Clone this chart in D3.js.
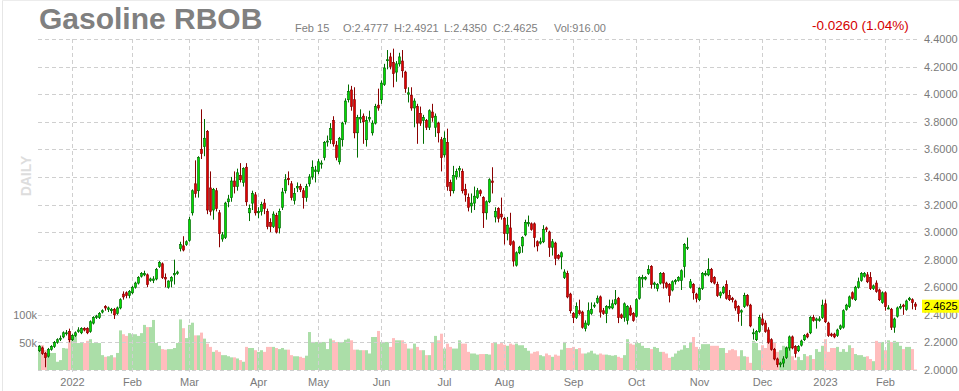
<!DOCTYPE html>
<html><head><meta charset="utf-8">
<script src="https://cdn.jsdelivr.net/npm/d3@7"></script>
<style>html,body{margin:0;padding:0;background:#fff;}svg{display:block;font-family:"Liberation Sans",Arial,sans-serif;}</style>
</head><body><svg id="c" width="959" height="391"></svg>
<script>
// ---- DATA: daily candles [open, high, low, close] per month ----
const ohlcDec21 = [[2.14,2.18,2.13,2.17],[2.16,2.17,2.11,2.12],[2.12,2.13,2.02,2.09],[2.10,2.16,2.09,2.15],[2.15,2.18,2.14,2.17],[2.17,2.21,2.16,2.20],[2.20,2.23,2.19,2.22],[2.23,2.25,2.21,2.23],[2.24,2.28,2.23,2.27],[2.27,2.29,2.25,2.27],[2.28,2.30,2.20,2.22]];
const ohlcJan22 = [[2.22,2.26,2.21,2.25],[2.25,2.28,2.24,2.27],[2.28,2.31,2.27,2.29],[2.27,2.31,2.26,2.30],[2.30,2.31,2.28,2.29],[2.30,2.31,2.26,2.27],[2.28,2.36,2.27,2.35],[2.34,2.39,2.33,2.38],[2.38,2.40,2.37,2.39],[2.38,2.42,2.37,2.41],[2.42,2.44,2.41,2.43],[2.46,2.47,2.43,2.45],[2.44,2.46,2.42,2.45],[2.43,2.45,2.41,2.44],[2.44,2.45,2.37,2.40],[2.41,2.46,2.40,2.45],[2.45,2.52,2.44,2.51],[2.55,2.57,2.51,2.53],[2.56,2.57,2.52,2.54],[2.54,2.58,2.52,2.57]];
const ohlcFeb22 = [[2.56,2.61,2.55,2.60],[2.60,2.64,2.59,2.63],[2.63,2.68,2.62,2.67],[2.68,2.71,2.67,2.70],[2.69,2.72,2.68,2.70],[2.69,2.70,2.60,2.62],[2.65,2.67,2.64,2.66],[2.65,2.68,2.63,2.66],[2.66,2.74,2.65,2.73],[2.75,2.79,2.74,2.78],[2.77,2.78,2.66,2.67],[2.67,2.70,2.60,2.66],[2.60,2.65,2.59,2.645],[2.645,2.68,2.60,2.67],[2.69,2.80,2.62,2.70],[2.70,2.72,2.69,2.71],[2.88,2.93,2.86,2.91],[2.90,2.97,2.86,2.87],[2.91,2.94,2.90,2.93]];
const ohlcMar22 = [[2.94,3.11,2.93,3.09],[3.14,3.31,3.12,3.30],[3.35,3.52,3.25,3.28],[3.30,3.55,3.25,3.54],[3.60,3.89,3.53,3.57],[3.62,3.82,3.55,3.68],[3.73,3.74,3.13,3.16],[3.32,3.44,3.12,3.15],[3.16,3.32,3.09,3.31],[3.30,3.32,3.15,3.17],[3.14,3.16,2.89,2.99],[2.95,3.00,2.93,2.98],[2.96,3.22,2.95,3.21],[3.22,3.27,3.18,3.24],[3.25,3.40,3.22,3.37],[3.37,3.44,3.28,3.33],[3.33,3.46,3.30,3.43],[3.41,3.50,3.36,3.38],[3.36,3.47,3.33,3.46],[3.47,3.50,3.19,3.22],[3.14,3.20,3.08,3.17],[3.21,3.30,3.16,3.28],[3.27,3.29,3.12,3.14]];
const ohlcApr22 = [[3.14,3.18,3.10,3.15],[3.15,3.22,3.12,3.20],[3.21,3.24,3.13,3.17],[3.15,3.17,3.02,3.04],[3.07,3.10,3.00,3.04],[3.04,3.15,3.03,3.13],[3.12,3.14,2.99,3.00],[3.03,3.17,2.99,3.15],[3.18,3.32,3.16,3.29],[3.30,3.42,3.28,3.38],[3.39,3.44,3.34,3.38],[3.35,3.37,3.23,3.25],[3.23,3.32,3.20,3.28],[3.32,3.36,3.29,3.33],[3.33,3.35,3.29,3.31],[3.30,3.32,3.17,3.25],[3.25,3.35,3.22,3.33],[3.35,3.42,3.33,3.40],[3.40,3.52,3.38,3.47],[3.44,3.48,3.36,3.45]];
const ohlcMay22 = [[3.44,3.53,3.42,3.51],[3.50,3.52,3.46,3.50],[3.54,3.66,3.52,3.65],[3.66,3.70,3.62,3.66],[3.67,3.79,3.64,3.75],[3.81,3.84,3.62,3.64],[3.63,3.66,3.52,3.54],[3.51,3.69,3.49,3.68],[3.67,3.80,3.62,3.79],[3.80,3.97,3.78,3.95],[3.96,4.07,3.94,4.02],[4.03,4.06,3.88,3.91],[3.96,4.05,3.68,3.72],[3.72,3.85,3.54,3.83],[3.82,3.89,3.79,3.83],[3.84,3.86,3.64,3.80],[3.67,3.84,3.62,3.81],[3.82,3.88,3.80,3.83],[3.72,3.81,3.70,3.79],[3.79,3.93,3.78,3.91],[3.92,4.04,3.88,3.90]];
const ohlcJun22 = [[3.96,4.10,3.93,4.08],[4.07,4.22,4.06,4.19],[4.25,4.32,4.18,4.25],[4.27,4.30,4.18,4.20],[4.23,4.33,4.05,4.15],[4.16,4.24,4.09,4.22],[4.22,4.30,4.20,4.27],[4.24,4.32,4.12,4.17],[4.16,4.17,4.01,4.04],[4.00,4.05,3.94,4.01],[3.99,4.05,3.88,3.90],[3.90,3.97,3.76,3.95],[3.91,3.93,3.64,3.79],[3.86,3.91,3.77,3.79],[3.81,3.85,3.64,3.83],[3.81,3.82,3.74,3.76],[3.76,3.89,3.74,3.88],[3.87,3.93,3.80,3.83],[3.76,3.86,3.69,3.84],[3.79,3.80,3.65,3.72],[3.67,3.69,3.44,3.54]];
const ohlcJul22 = [[3.56,3.73,3.54,3.68],[3.65,3.75,3.30,3.33],[3.36,3.38,3.26,3.30],[3.30,3.48,3.28,3.41],[3.40,3.46,3.38,3.44],[3.45,3.48,3.40,3.46],[3.44,3.46,3.28,3.30],[3.31,3.35,3.22,3.27],[3.25,3.28,3.15,3.18],[3.19,3.28,3.14,3.21],[3.21,3.33,3.16,3.26],[3.25,3.32,3.24,3.30],[3.30,3.31,3.26,3.28],[3.25,3.26,3.03,3.14],[3.14,3.23,3.09,3.22],[3.22,3.39,3.21,3.38],[3.37,3.47,3.28,3.36],[3.11,3.18,3.07,3.15],[3.17,3.18,3.07,3.10],[3.13,3.25,3.09,3.11]];
const ohlcAug22 = [[3.10,3.11,2.91,2.99],[2.99,3.11,2.94,3.05],[3.03,3.14,2.90,2.91],[2.93,2.94,2.75,2.79],[2.76,2.86,2.75,2.85],[2.85,2.90,2.84,2.89],[2.90,2.97,2.85,2.96],[2.98,3.09,2.97,3.07],[3.06,3.12,3.04,3.07],[3.06,3.07,3.01,3.02],[3.06,3.07,2.89,2.96],[2.93,2.94,2.86,2.90],[2.92,2.96,2.91,2.93],[2.93,3.05,2.92,3.02],[3.03,3.04,3.00,3.02],[3.00,3.01,2.82,2.89],[2.89,2.95,2.83,2.93],[2.92,2.93,2.76,2.81],[2.83,2.84,2.80,2.81],[2.82,2.86,2.73,2.85],[2.67,2.73,2.66,2.71],[2.70,2.72,2.52,2.53],[2.55,2.56,2.41,2.43]];
const ohlcSep22 = [[2.41,2.42,2.34,2.38],[2.38,2.49,2.37,2.46],[2.43,2.51,2.40,2.41],[2.42,2.43,2.30,2.31],[2.30,2.36,2.28,2.34],[2.33,2.49,2.32,2.43],[2.41,2.49,2.40,2.44],[2.47,2.49,2.45,2.47],[2.49,2.54,2.48,2.52],[2.53,2.54,2.38,2.42],[2.43,2.45,2.40,2.41],[2.41,2.47,2.34,2.46],[2.45,2.51,2.44,2.46],[2.45,2.51,2.44,2.48],[2.48,2.58,2.47,2.51],[2.52,2.53,2.34,2.38],[2.40,2.41,2.37,2.38],[2.38,2.49,2.35,2.48],[2.36,2.47,2.33,2.46],[2.45,2.47,2.39,2.40],[2.41,2.42,2.35,2.36]];
const ohlcOct22 = [[2.39,2.52,2.38,2.51],[2.52,2.68,2.51,2.67],[2.66,2.69,2.60,2.67],[2.66,2.68,2.65,2.67],[2.70,2.76,2.69,2.73],[2.75,2.76,2.59,2.62],[2.62,2.64,2.59,2.63],[2.59,2.63,2.57,2.62],[2.63,2.71,2.62,2.70],[2.70,2.71,2.59,2.63],[2.63,2.64,2.59,2.60],[2.62,2.63,2.49,2.54],[2.58,2.65,2.57,2.64],[2.64,2.66,2.62,2.65],[2.65,2.68,2.64,2.67],[2.65,2.73,2.58,2.72],[2.75,2.92,2.67,2.91],[2.89,2.96,2.87,2.89],[2.60,2.66,2.59,2.64],[2.62,2.63,2.51,2.56],[2.55,2.56,2.49,2.52]];
const ohlcNov22 = [[2.51,2.60,2.50,2.59],[2.59,2.71,2.58,2.70],[2.69,2.72,2.68,2.70],[2.69,2.81,2.68,2.73],[2.73,2.74,2.63,2.64],[2.67,2.68,2.62,2.63],[2.62,2.64,2.53,2.54],[2.54,2.57,2.52,2.56],[2.56,2.61,2.55,2.60],[2.62,2.65,2.51,2.52],[2.54,2.58,2.50,2.51],[2.52,2.53,2.49,2.51],[2.50,2.51,2.43,2.45],[2.46,2.47,2.35,2.41],[2.42,2.44,2.32,2.43],[2.46,2.56,2.45,2.54],[2.54,2.55,2.46,2.47],[2.47,2.48,2.31,2.32],[2.27,2.30,2.22,2.27],[2.22,2.29,2.21,2.28],[2.28,2.40,2.27,2.38]];
const ohlcDec22 = [[2.37,2.41,2.32,2.33],[2.34,2.36,2.27,2.28],[2.29,2.31,2.19,2.20],[2.22,2.23,2.14,2.15],[2.15,2.16,2.07,2.08],[2.08,2.09,2.02,2.04],[2.04,2.06,2.02,2.05],[2.05,2.10,2.02,2.08],[2.09,2.17,2.08,2.16],[2.16,2.25,2.14,2.24],[2.24,2.25,2.15,2.16],[2.17,2.18,2.09,2.12],[2.14,2.18,2.13,2.17],[2.18,2.22,2.17,2.21],[2.22,2.26,2.21,2.25],[2.26,2.27,2.23,2.24],[2.27,2.39,2.26,2.38],[2.38,2.40,2.35,2.36],[2.36,2.38,2.30,2.37],[2.36,2.39,2.35,2.37],[2.38,2.51,2.37,2.47]];
const ohlcJan23 = [[2.48,2.51,2.34,2.35],[2.34,2.35,2.24,2.25],[2.26,2.27,2.24,2.25],[2.26,2.27,2.23,2.24],[2.25,2.30,2.24,2.29],[2.30,2.33,2.29,2.32],[2.31,2.44,2.30,2.43],[2.44,2.48,2.43,2.47],[2.46,2.54,2.45,2.53],[2.56,2.57,2.51,2.52],[2.51,2.61,2.50,2.60],[2.60,2.67,2.59,2.64],[2.65,2.71,2.64,2.70],[2.68,2.71,2.67,2.70],[2.69,2.71,2.63,2.64],[2.67,2.71,2.58,2.59],[2.59,2.62,2.58,2.61],[2.63,2.65,2.56,2.57],[2.58,2.59,2.50,2.51],[2.49,2.57,2.48,2.56]];
const ohlcFeb23 = [[2.56,2.57,2.43,2.46],[2.45,2.47,2.44,2.45],[2.44,2.45,2.29,2.31],[2.31,2.38,2.27,2.37],[2.39,2.46,2.38,2.45],[2.45,2.48,2.44,2.46],[2.47,2.48,2.40,2.46],[2.44,2.51,2.43,2.50],[2.51,2.53,2.50,2.52],[2.51,2.52,2.44,2.49],[2.4777,2.4921,2.4350,2.4625]];

// ---- DATA: daily volume (thousands of contracts) per month ----
const volDec21 = [45,45,36,31,31,31,15,18,40,39,69];
const volJan22 = [60,67,49,49,49,53,56,49,49,49,27,24,25,27,23,31,72,65,62,67];
const volFeb22 = [65,65,62,67,82,78,78,91,49,44,38,37,38,38,40,49,92,76,58];
const volMar22 = [82,86,63,63,68,57,48,42,33,36,33,27,27,25,23,23,21,18,15,42,40,40,36];
const volApr22 = [33,36,33,42,42,42,40,38,40,37,37,27,25,25,24,22,26,69,51,51];
const volMay22 = [51,51,51,38,57,54,51,51,51,55,57,54,37,37,36,36,36,30,60,60,71];
const volJun22 = [51,51,51,42,58,54,54,54,48,39,39,48,42,36,36,27,27,51,62,54,66];
const volJul22 = [39,48,42,39,39,54,48,48,33,30,30,28,29,29,29,28,49,49,47,49];
const volAug22 = [46,44,48,46,48,45,45,40,35,30,33,34,27,25,30,27,24,28,26,37,51,40,40];
const volSep22 = [42,38,40,30,30,32,35,30,28,30,28,28,27,26,27,24,22,27,56,48,46];
const volOct22 = [51,49,44,40,40,38,42,40,33,33,30,22,24,30,35,37,45,40,51,60,42];
const volNov22 = [38,47,47,47,44,44,44,40,40,31,36,38,36,25,36,25,24,13,53,49,36];
const volDec22 = [45,40,58,49,49,33,36,44,42,42,25,18,24,18,29,25,27,20,38,33,44];
const volJan23 = [56,33,40,40,42,33,38,33,45,40,29,27,27,24,25,20,16,53,49,51];
const volFeb23 = [36,54,51,53,51,44,38,42,42,38,0.916];

// ---- month axis labels (first trading day of each month) ----
const monthLabels = ["", "2022", "Feb", "Mar", "Apr", "May", "Jun", "Jul", "Aug", "Sep", "Oct", "Nov", "Dec", "2023", "Feb"];
const monthCandles = [ohlcDec21, ohlcJan22, ohlcFeb22, ohlcMar22, ohlcApr22, ohlcMay22, ohlcJun22, ohlcJul22, ohlcAug22, ohlcSep22, ohlcOct22, ohlcNov22, ohlcDec22, ohlcJan23, ohlcFeb23];
const monthVolumes = [volDec21, volJan22, volFeb22, volMar22, volApr22, volMay22, volJun22, volJul22, volAug22, volSep22, volOct22, volNov22, volDec22, volJan23, volFeb23];

const priceTicks = [2.0, 2.2, 2.4, 2.6, 2.8, 3.0, 3.2, 3.4, 3.6, 3.8, 4.0, 4.2, 4.4];
const volumeTicks = [50, 100];
const lastPrice = 2.4625;

// ---- build ----
const candles = monthCandles.flat();
const volumes = monthVolumes.flat();
const n = candles.length;
const tickIdx = [];
{ let c = 0; monthCandles.forEach((m, k) => { if (monthLabels[k]) tickIdx.push({i: c, label: monthLabels[k]}); c += m.length; }); }

const svg = d3.select("#c");
const PL = 38, PR = 918, PT = 39, PB = 370;
const x = d3.scaleBand().domain(d3.range(n)).range([38, 38 + 3 * n]).padding(0);
const cx = i => x(i) + x.bandwidth() / 2;
const y = d3.scaleLinear().domain([2.0, 4.4]).range([PB, PT]);
const vy = d3.scaleLinear().domain([0, 100]).range([PB, 315]);

// frame
svg.append("line").attr("x1", 2.5).attr("x2", 2.5).attr("y1", 0).attr("y2", 391).attr("stroke", "#e6e6e6");
svg.append("line").attr("x1", 2).attr("x2", 959).attr("y1", 0.5).attr("y2", 0.5).attr("stroke", "#ececec");

// volume bars
svg.append("g").selectAll("rect").data(volumes).join("rect")
  .attr("x", (d, i) => x(i)).attr("width", x.bandwidth())
  .attr("y", d => vy(d)).attr("height", d => PB - vy(d))
  .attr("fill", (d, i) => candles[i][3] >= candles[i][0] ? "#abdea8" : "#ffbdbd");

// grid
const grid = svg.append("g").attr("stroke", "#cfcfcf").attr("stroke-dasharray", "4,3").attr("shape-rendering", "crispEdges");
grid.selectAll("line.h").data(priceTicks).join("line").attr("class", "h")
  .attr("x1", PL).attr("x2", PR).attr("y1", d => Math.round(y(d)) + 0.5).attr("y2", d => Math.round(y(d)) + 0.5);
grid.selectAll("line.v").data(tickIdx).join("line").attr("class", "v")
  .attr("x1", d => cx(d.i)).attr("x2", d => cx(d.i)).attr("y1", PT).attr("y2", 373);

// candles
const cg = svg.append("g");
cg.selectAll("line").data(candles).join("line")
  .attr("x1", (d, i) => cx(i)).attr("x2", (d, i) => cx(i))
  .attr("y1", d => y(d[1])).attr("y2", d => y(d[2]))
  .attr("stroke", d => d[3] >= d[0] ? "#006e00" : "#8a0000").attr("stroke-width", 1);
cg.selectAll("rect").data(candles).join("rect")
  .attr("x", (d, i) => x(i) + 0.6).attr("width", x.bandwidth() - 1.2)
  .attr("y", d => y(Math.max(d[0], d[3])))
  .attr("height", d => Math.max(1, Math.abs(y(d[0]) - y(d[3]))))
  .attr("fill", d => d[3] >= d[0] ? "#00dc00" : "#e00000")
  .attr("stroke", d => d[3] >= d[0] ? "#006e00" : "#8a0000").attr("stroke-width", 0.7);

// axes
const axCol = "#7a7a7a";
const ra = svg.append("g").attr("transform", `translate(${PR},0)`)
  .call(d3.axisRight(y).tickValues(priceTicks).tickFormat(d3.format(".4f")).tickSize(0).tickPadding(6));
ra.select(".domain").remove();
ra.selectAll("text").attr("fill", axCol).style("font-size", "11px").style("font-family", '"Liberation Sans",Arial,sans-serif');

const la = svg.append("g").attr("transform", `translate(${PL},0)`)
  .call(d3.axisLeft(vy).tickValues(volumeTicks).tickFormat(d => d + "k").tickSize(0).tickPadding(1));
la.select(".domain").remove();
la.selectAll("text").attr("fill", axCol).style("font-size", "11px").style("font-family", '"Liberation Sans",Arial,sans-serif');

const ba = svg.append("g").attr("transform", `translate(0,375)`)
  .call(d3.axisBottom(x).tickValues(tickIdx.map(d => d.i)).tickFormat(i => tickIdx.find(t => t.i === i).label).tickSize(0).tickPadding(3));
ba.select(".domain").remove();
ba.selectAll("text").attr("fill", axCol).style("font-size", "11px").style("font-family", '"Liberation Sans",Arial,sans-serif');

// last price tag
const ly = y(lastPrice);
svg.append("rect").attr("x", 922).attr("y", ly - 6.5).attr("width", 37).attr("height", 13).attr("fill", "#ffff00");
svg.append("text").attr("x", 924).attr("y", ly).attr("dy", "0.35em").attr("fill", "#000").style("font-size", "11px").text(d3.format(".4f")(lastPrice));

// DAILY
svg.append("text").attr("transform", "translate(31,176) rotate(-90)").attr("text-anchor", "middle")
  .attr("fill", "#dddddd").style("font-size", "14px").style("font-weight", "bold").text("DAILY");

// title & info
svg.append("text").attr("x", 39).attr("y", 29).attr("fill", "#808080").style("font-size", "30px").style("font-weight", "bold").text("Gasoline RBOB");
const last = candles[n - 1];
const info = [
  {x: 295, t: "Feb 15"},
  {x: 343, t: "O:" + d3.format(".4f")(last[0])},
  {x: 394, t: "H:" + d3.format(".4f")(last[1])},
  {x: 444, t: "L:" + d3.format(".4f")(last[2])},
  {x: 493, t: "C:" + d3.format(".4f")(last[3])},
  {x: 554, t: "Vol:" + d3.format(".2f")(volumes[n - 1] * 1000)}
];
svg.append("g").selectAll("text").data(info).join("text")
  .attr("x", d => d.x).attr("y", 32).attr("fill", "#808080").style("font-size", "11px").text(d => d.t);
svg.append("text").attr("x", 812).attr("y", 30).attr("fill", "#d40000").style("font-size", "13.5px").text("-0.0260 (1.04%)");
</script></body></html>
